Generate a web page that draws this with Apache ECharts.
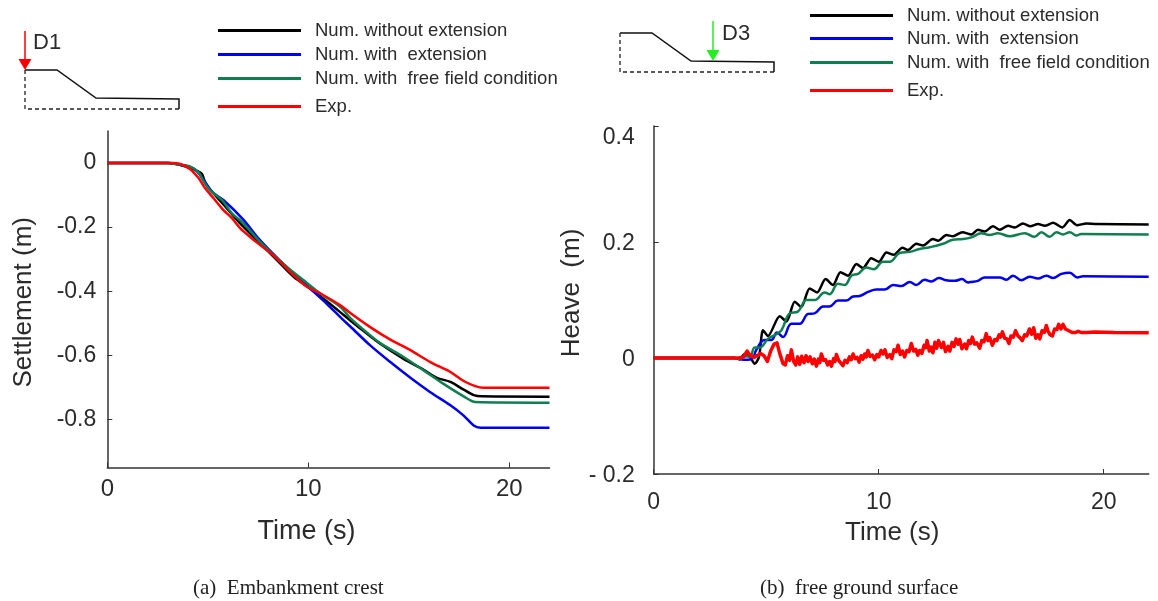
<!DOCTYPE html>
<html>
<head>
<meta charset="utf-8">
<style>html,body{margin:0;padding:0;background:#fff}#c{width:1158px;height:601px}</style>
<script src="https://cdn.jsdelivr.net/npm/echarts@6/dist/echarts.min.js"></script>
</head>
<body>
<div id="c"></div>
<script>
const seriesNames = ['Num. without extension', 'Num. with  extension', 'Num. with  free field condition', 'Exp.'];
const seriesColors = ['#000000', '#0000f0', '#0f7f50', '#ff0000'];
const xTicks = [0, 10, 20];
const leftYTicks = [-0.8, -0.6, -0.4, -0.2, 0];
const rightYTicks = [-0.2, 0, 0.2, 0.4];

const crestBlack = [[0,0],[3.0,0],[3.5,-0.004],[4.3,-0.02],[4.71,-0.034],[4.88,-0.063],[5.29,-0.095],[5.96,-0.142],[6.62,-0.189],[7.45,-0.241],[8.44,-0.303],[9.27,-0.355],[10.1,-0.392],[10.93,-0.432],[11.76,-0.474],[12.09,-0.491],[12.75,-0.524],[13.58,-0.564],[14.74,-0.611],[15.74,-0.645],[16.4,-0.67],[17.07,-0.683],[17.73,-0.707],[18.23,-0.724],[18.64,-0.728],[22,-0.729]];
const crestBlue = [[0,0],[3.0,0],[3.5,-0.004],[4.3,-0.017],[4.8,-0.053],[5.21,-0.09],[5.79,-0.116],[6.79,-0.178],[7.45,-0.23],[8.44,-0.295],[9.44,-0.355],[10.27,-0.402],[10.93,-0.44],[11.68,-0.486],[12.09,-0.51],[13.08,-0.569],[14.08,-0.621],[15.08,-0.67],[16.07,-0.715],[17.07,-0.756],[17.73,-0.788],[18.23,-0.819],[18.56,-0.826],[22,-0.826]];
const crestGreen = [[0,0],[3.0,0],[3.5,-0.004],[4.13,-0.011],[4.55,-0.03],[4.8,-0.058],[5.13,-0.086],[5.71,-0.116],[6.2,-0.157],[6.79,-0.189],[7.45,-0.236],[8.11,-0.277],[8.94,-0.324],[9.77,-0.366],[10.6,-0.407],[11.6,-0.449],[12.09,-0.484],[12.75,-0.52],[13.58,-0.562],[14.74,-0.605],[15.74,-0.647],[16.73,-0.689],[17.73,-0.728],[18.31,-0.746],[22,-0.748]];
const crestRed = [[0,0],[3.2,0],[3.63,-0.003],[4.13,-0.019],[4.54,-0.047],[4.87,-0.079],[5.29,-0.11],[5.78,-0.147],[6.2,-0.172],[6.62,-0.204],[7.11,-0.231],[7.61,-0.256],[8.11,-0.28],[8.61,-0.309],[9.27,-0.35],[9.93,-0.386],[10.6,-0.407],[11.6,-0.444],[12.09,-0.468],[13.08,-0.512],[14.08,-0.551],[15.08,-0.584],[16.07,-0.621],[17.07,-0.652],[17.73,-0.68],[18.31,-0.696],[18.72,-0.701],[22,-0.701]];

const groundBlack = [[0,0],[3.6,0],[3.82,-0.002],[4.04,0.007],[4.27,0.002],[4.49,-0.01],[4.68,0.002],[4.86,0.048],[5.08,0.038],[5.6,0.072],[5.9,0.063],[6.27,0.097],[6.56,0.088],[6.93,0.12],[7.26,0.113],[7.64,0.136],[7.97,0.126],[8.3,0.148],[8.64,0.142],[9.01,0.162],[9.3,0.155],[9.67,0.172],[10.01,0.166],[10.34,0.182],[10.67,0.178],[11.05,0.19],[11.3,0.186],[11.67,0.197],[11.97,0.194],[12.41,0.205],[12.64,0.202],[13.01,0.212],[13.3,0.21],[13.72,0.217],[14.12,0.213],[14.41,0.221],[14.71,0.218],[15.08,0.227],[15.38,0.221],[15.75,0.228],[16.04,0.225],[16.41,0.232],[16.74,0.227],[17.08,0.231],[17.38,0.228],[17.75,0.233],[18.16,0.225],[18.49,0.238],[18.81,0.229],[19.23,0.232],[19.67,0.231],[22,0.23]];
const groundBlue = [[0,0],[3.6,0],[3.82,-0.002],[4.19,-0.003],[4.41,0],[4.56,0.014],[4.93,0.031],[5.23,0.031],[5.48,0.044],[5.75,0.036],[6.12,0.059],[6.49,0.059],[6.86,0.076],[7.15,0.077],[7.53,0.089],[7.82,0.089],[8.19,0.099],[8.56,0.099],[8.86,0.106],[9.15,0.107],[9.53,0.114],[9.9,0.118],[10.27,0.118],[10.64,0.126],[11.01,0.124],[11.38,0.131],[11.67,0.126],[12.04,0.135],[12.34,0.132],[12.68,0.138],[12.99,0.134],[13.38,0.133],[13.7,0.136],[13.97,0.13],[14.05,0.131],[14.41,0.133],[14.71,0.139],[15.38,0.139],[15.68,0.135],[15.97,0.142],[16.34,0.134],[16.71,0.14],[17.08,0.137],[17.45,0.142],[17.75,0.138],[18.12,0.145],[18.49,0.147],[18.83,0.139],[19.08,0.141],[22,0.14]];
const groundGreen = [[0,0],[3.6,0],[3.82,-0.002],[4.04,0.003],[4.27,0.002],[4.49,0.018],[4.71,0.018],[5.08,0.033],[5.4,0.04],[5.68,0.048],[6.04,0.077],[6.41,0.08],[6.79,0.1],[7.15,0.1],[7.6,0.113],[7.82,0.11],[8.19,0.128],[8.49,0.126],[8.79,0.142],[9.08,0.145],[9.45,0.156],[9.78,0.153],[10.19,0.166],[10.49,0.166],[10.93,0.181],[11.38,0.183],[11.82,0.188],[12.27,0.191],[12.86,0.197],[13.3,0.204],[13.75,0.205],[14.12,0.208],[14.56,0.215],[14.93,0.212],[15.3,0.215],[15.82,0.21],[16.49,0.215],[16.93,0.209],[17.23,0.217],[17.6,0.209],[17.9,0.217],[18.19,0.213],[18.49,0.217],[18.79,0.211],[19.0,0.214],[22,0.213]];
const groundRed = [[0,0],[3.8,0],[4.0,0.002],[4.15,0.012],[4.3,0.004],[4.45,0.001],[4.6,0.004],[4.75,0.008],[4.9,0.004],[5.05,-0.006],[5.2,0.012],[5.35,0.024],[5.48,0.026],[5.6,0.008],[5.75,-0.01],[5.85,-0.012],[5.95,0.004],[6.04,-0.004],[6.12,0.014],[6.22,-0.006],[6.31,-0.012],[6.4,0.002],[6.49,-0.011],[6.58,0.003],[6.68,-0.008],[6.77,0.004],[6.86,-0.006],[6.95,0.002],[7.05,-0.01],[7.14,-0.002],[7.23,-0.014],[7.32,-0.002],[7.38,-0.008],[7.45,0.007],[7.55,-0.004],[7.64,-0.003],[7.73,-0.012],[7.82,-0.006],[7.9,-0.014],[8.0,-0.001],[8.06,-0.006],[8.12,0.006],[8.22,-0.004],[8.3,-0.007],[8.41,-0.013],[8.5,-0.004],[8.6,-0.008],[8.7,0.002],[8.78,-0.003],[8.86,0.007],[8.95,-0.001],[9.04,0.001],[9.13,-0.007],[9.22,0.004],[9.3,-0.002],[9.38,0.007],[9.45,0.002],[9.52,0.013],[9.62,0.003],[9.72,0.005],[9.82,-0.003],[9.92,0.006],[10.0,0.002],[10.1,0.013],[10.19,0.007],[10.28,0.014],[10.38,0.001],[10.49,0.006],[10.58,-0.001],[10.68,0.014],[10.78,0.011],[10.86,0.022],[10.96,0.006],[11.06,0.012],[11.15,0.002],[11.25,0.013],[11.35,0.011],[11.45,0.025],[11.55,0.012],[11.65,0.015],[11.74,0.005],[11.82,0.013],[11.92,0.008],[12.02,0.022],[12.1,0.018],[12.15,0.03],[12.25,0.012],[12.33,0.019],[12.41,0.009],[12.5,0.027],[12.58,0.017],[12.66,0.03],[12.79,0.018],[12.88,0.027],[12.97,0.011],[13.08,0.02],[13.16,0.012],[13.26,0.027],[13.35,0.02],[13.44,0.033],[13.53,0.024],[13.6,0.032],[13.7,0.016],[13.82,0.024],[13.9,0.016],[14.0,0.03],[14.08,0.025],[14.16,0.036],[14.26,0.024],[14.36,0.026],[14.49,0.017],[14.58,0.03],[14.68,0.028],[14.78,0.042],[14.86,0.03],[14.94,0.035],[15.05,0.022],[15.16,0.032],[15.25,0.03],[15.35,0.04],[15.42,0.036],[15.5,0.045],[15.6,0.034],[15.7,0.033],[15.79,0.025],[15.88,0.038],[15.98,0.036],[16.08,0.047],[16.19,0.038],[16.28,0.035],[16.38,0.03],[16.49,0.04],[16.58,0.038],[16.7,0.05],[16.8,0.041],[16.89,0.052],[16.98,0.034],[17.08,0.04],[17.16,0.033],[17.26,0.047],[17.36,0.044],[17.45,0.056],[17.53,0.046],[17.62,0.04],[17.72,0.038],[17.82,0.05],[17.92,0.049],[18.0,0.058],[18.1,0.05],[18.19,0.058],[18.3,0.05],[18.45,0.047],[18.6,0.044],[18.75,0.044],[18.86,0.046],[19.0,0.044],[19.23,0.044],[19.6,0.045],[20.5,0.044],[22,0.0437]];

const FONT = '"Liberation Sans", Arial, sans-serif';
const SERIF = '"Liberation Serif", "Times New Roman", serif';
const INK = '#2b2b2b';

function xAxis(gridIndex, fontSize, margin, nameGap, nameShift, nameSize) {
  return {
    type: 'value', gridIndex, min: 0, max: 22, interval: 10,
    name: 'Time (s)', nameLocation: 'middle', nameGap,
    nameTextStyle: { fontFamily: FONT, fontSize: nameSize, color: INK, padding: [0, nameShift, 0, 0] },
    splitLine: { show: false },
    axisLine: { onZero: false, lineStyle: { color: '#333', width: 1.5 } },
    axisTick: { inside: true, length: 5, customValues: xTicks, lineStyle: { color: '#333', width: 1 } },
    axisLabel: { margin, fontFamily: FONT, fontSize, color: INK, customValues: xTicks, formatter: v => String(v) }
  };
}
function yAxis(gridIndex, opts) {
  return Object.assign({
    type: 'value', gridIndex, nameLocation: 'middle',
    splitLine: { show: false },
    axisLine: { show: true, onZero: false, lineStyle: { color: '#333', width: 1.5 } }
  }, opts);
}
function line(name, color, data, idx, width, smooth) {
  return { type: 'line', name, data, xAxisIndex: idx, yAxisIndex: idx, showSymbol: false, symbol: 'none', smooth,
    lineStyle: { color, width, join: 'round' }, itemStyle: { color }, animation: false };
}
function legendItem(name, left, top) {
  return { data: [name], left, top, padding: 0, orient: 'vertical', icon: 'rect', itemWidth: 83, itemHeight: 3,
    selectedMode: false, textStyle: { fontFamily: FONT, fontSize: 18.5, color: INK, padding: [0, 0, 0, 9] } };
}
function sketch(x, y) {
  const p = (dx, dy) => [x + dx, y + dy];
  return [
    { type: 'polyline', silent: true, shape: { points: [p(0,0), p(32,0), p(71,28), p(154,29), p(154,39)] }, style: { fill: null, stroke: '#111', lineWidth: 1.5 } },
    { type: 'polyline', silent: true, shape: { points: [p(0,0), p(0,39), p(154,39)] }, style: { fill: null, stroke: '#222', lineWidth: 1.3, lineDash: [4, 3] } }
  ];
}
function arrow(x, y0, y1, color) {
  return [
    { type: 'line', silent: true, shape: { x1: x, y1: y0, x2: x, y2: y1 }, style: { stroke: color, lineWidth: 1.5 } },
    { type: 'polygon', silent: true, shape: { points: [[x - 6.5, y1 - 2], [x + 6.5, y1 - 2], [x, y1 + 9]] }, style: { fill: color } }
  ];
}
function label(text, x, y) {
  return { type: 'text', silent: true, style: { text, x, y, fontFamily: FONT, fontSize: 22, fill: INK, verticalAlign: 'middle' } };
}
const rightFormat = v => {
  if (Math.abs(v) < 1e-9) return '0';
  if (v < 0) return '- ' + Math.abs(v).toFixed(1);
  if (v > 0.35) return '{top|' + v.toFixed(1) + '}';
  return v.toFixed(1);
};

const chart = echarts.init(document.getElementById('c'), null, { renderer: 'canvas' });
chart.setOption({
  animation: false,
  backgroundColor: '#fff',
  color: seriesColors,
  title: [
    { text: '(a)  Embankment crest', left: 193, top: 578, padding: 0, textStyle: { fontFamily: SERIF, fontSize: 21, fontWeight: 'normal', color: '#222' } },
    { text: '(b)  free ground surface', left: 760, top: 578, padding: 0, textStyle: { fontFamily: SERIF, fontSize: 21, fontWeight: 'normal', color: '#222' } }
  ],
  legend: [
    legendItem(seriesNames[0], 218, 21), legendItem(seriesNames[1], 218, 45), legendItem(seriesNames[2], 218, 69), legendItem(seriesNames[3], 218, 97),
    legendItem(seriesNames[0], 810, 6), legendItem(seriesNames[1], 810, 29), legendItem(seriesNames[2], 810, 53), legendItem(seriesNames[3], 810, 81)
  ],
  grid: [
    { left: 107.3, top: 131, width: 442.2, height: 336.5 },
    { left: 653.7, top: 126, width: 495, height: 348 }
  ],
  xAxis: [
    xAxis(0, 24, 10, 51, 44, 27),
    xAxis(1, 23, 17, 46, 18, 26)
  ],
  yAxis: [
    yAxis(0, {
      min: -0.95, max: 0.1, interval: 0.2,
      name: 'Settlement (m)', nameGap: 70,
      nameTextStyle: { fontFamily: FONT, fontSize: 26, color: INK, padding: [0, 6, 0, 0] },
      axisTick: { show: true, inside: true, length: 5, customValues: leftYTicks, lineStyle: { color: '#333', width: 1 } },
      axisLabel: { margin: 11, padding: [6, 0, 0, 0], fontFamily: FONT, fontSize: 23, color: INK, customValues: leftYTicks, formatter: v => (v === 0 ? '0' : v.toFixed(1)) }
    }),
    yAxis(1, {
      min: -0.2, max: 0.4, interval: 0.2,
      name: 'Heave  (m)', nameGap: 60,
      nameTextStyle: { fontFamily: FONT, fontSize: 26, color: INK, padding: [0, 0, 0, 14] },
      axisTick: { show: true, inside: true, length: 5, customValues: rightYTicks, lineStyle: { color: '#333', width: 1 } },
      axisLabel: { margin: 19, padding: [4, 0, 0, 0], fontFamily: FONT, fontSize: 23, color: INK, customValues: rightYTicks, formatter: rightFormat,
        rich: { top: { fontFamily: FONT, fontSize: 23, color: INK, padding: [20, 0, 0, 0] } } }
    })
  ],
  series: [
    line(seriesNames[0], seriesColors[0], crestBlack, 0, 2.5, 0.3),
    line(seriesNames[1], seriesColors[1], crestBlue, 0, 2.5, 0.3),
    line(seriesNames[2], seriesColors[2], crestGreen, 0, 2.5, 0.3),
    line(seriesNames[3], seriesColors[3], crestRed, 0, 2.5, 0.3),
    line(seriesNames[0], seriesColors[0], groundBlack, 1, 2.5, 0.25),
    line(seriesNames[1], seriesColors[1], groundBlue, 1, 2.5, 0.4),
    line(seriesNames[2], seriesColors[2], groundGreen, 1, 2.5, 0.4),
    line(seriesNames[3], seriesColors[3], groundRed, 1, 3.5, false)
  ],
  graphic: [].concat(
    sketch(25, 70), arrow(25, 31, 61, '#ff0000'), [label('D1', 33, 43)],
    sketch(620, 33), arrow(713, 21, 52, '#22ee22'), [label('D3', 722, 34)]
  )
});
</script>
</body>
</html>
